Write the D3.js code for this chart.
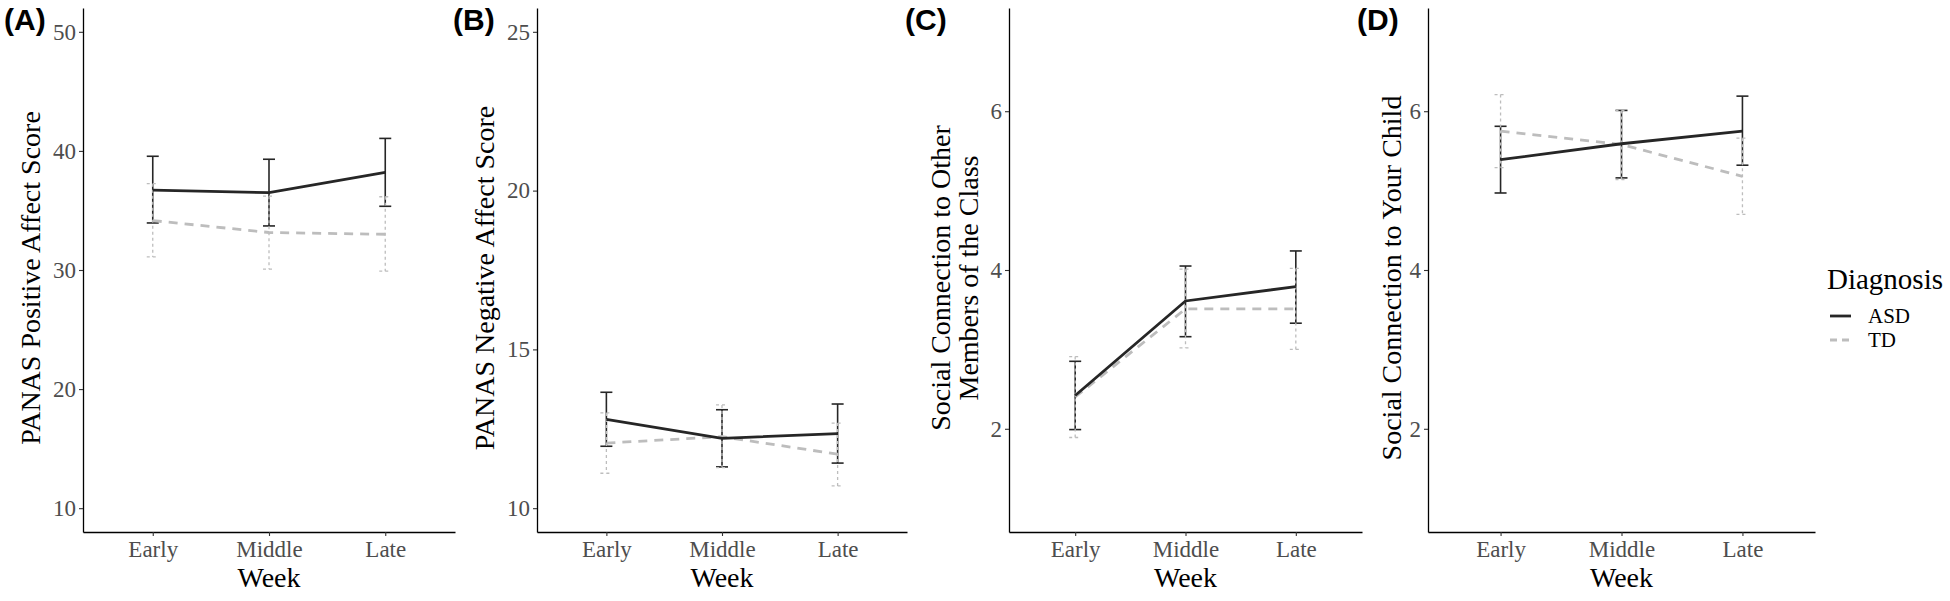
<!DOCTYPE html>
<html><head><meta charset="utf-8">
<script src="https://cdn.jsdelivr.net/npm/d3@7"></script>
<style>body{margin:0;background:#fff;overflow:hidden}</style>
</head><body>
<svg id="chart" width="1950" height="601"></svg>
<script>
// ---------- data ----------
const weeks = ["Early", "Middle", "Late"];
const groups = ["ASD", "TD"];

// (A) PANAS Positive Affect
const posASD = [36.7, 36.5, 38.2];
const posASDlo = [33.95, 33.7, 35.35];
const posASDhi = [39.55, 39.3, 41.05];
const posTD = [34.15, 33.15, 33.0];
const posTDlo = [31.1, 30.07, 29.9];
const posTDhi = [37.25, 36.2, 36.15];
const posTicks = [10, 20, 30, 40, 50];

// (B) PANAS Negative Affect
const negASD = [12.8, 12.2, 12.35];
const negASDlo = [11.95, 11.3, 11.42];
const negASDhi = [13.65, 13.1, 13.28];
const negTD = [12.05, 12.25, 11.7];
const negTDlo = [11.1, 11.28, 10.7];
const negTDhi = [13.0, 13.25, 12.68];
const negTicks = [10, 15, 20, 25];

// (C) Social connection to other class members
const clsASD = [2.42, 3.61, 3.79];
const clsASDlo = [1.99, 3.16, 3.33];
const clsASDhi = [2.85, 4.05, 4.24];
const clsTD = [2.4, 3.51, 3.51];
const clsTDlo = [1.89, 3.02, 3.0];
const clsTDhi = [2.91, 4.01, 4.02];
const clsTicks = [2, 4, 6];

// (D) Social connection to your child
const chdASD = [5.39, 5.59, 5.75];
const chdASDlo = [4.97, 5.16, 5.32];
const chdASDhi = [5.81, 6.01, 6.19];
const chdTD = [5.75, 5.58, 5.18];
const chdTDlo = [5.29, 5.14, 4.7];
const chdTDhi = [6.21, 6.01, 5.66];
const chdTicks = [2, 4, 6];

// ---------- layout ----------
const panels = [
  {label: "(A)", lx: 4, x0: 83, x1: 455, dom: [8, 52], ticks: posTicks,
   title: ["PANAS Positive Affect Score"], tx: 40,
   asd: [posASD, posASDlo, posASDhi], td: [posTD, posTDlo, posTDhi]},
  {label: "(B)", lx: 453, x0: 537, x1: 907, dom: [9.25, 25.75], ticks: negTicks,
   title: ["PANAS Negative Affect Score"], tx: 494,
   asd: [negASD, negASDlo, negASDhi], td: [negTD, negTDlo, negTDhi]},
  {label: "(C)", lx: 905, x0: 1009, x1: 1362, dom: [0.7, 7.3], ticks: clsTicks,
   title: ["Social Connection to Other", "Members of the Class"], tx: 978,
   asd: [clsASD, clsASDlo, clsASDhi], td: [clsTD, clsTDlo, clsTDhi]},
  {label: "(D)", lx: 1357, x0: 1428, x1: 1815, dom: [0.7, 7.3], ticks: chdTicks,
   title: ["Social Connection to Your Child"], tx: 1401,
   asd: [chdASD, chdASDlo, chdASDhi], td: [chdTD, chdTDlo, chdTDhi]}
];

const TOP = 8, BOT = 532;
const serif = "'Liberation Serif','Times New Roman',serif";
const sans = "'Liberation Sans',Arial,sans-serif";
const ASDcol = "#262626", TDcol = "#bdbdbd";

const svg = d3.select("#chart");
svg.append("rect").attr("width", 1950).attr("height", 601).attr("fill", "#fff");

panels.forEach(p => {
  const g = svg.append("g");
  const x = d3.scalePoint().domain(weeks).range([p.x0, p.x1]).padding(0.6);
  const y = d3.scaleLinear().domain(p.dom).range([BOT, TOP]);

  // y axis
  const ya = g.append("g").attr("transform", `translate(${p.x0},0)`)
    .call(d3.axisLeft(y).tickValues(p.ticks).tickFormat(d3.format("d"))
      .tickSize(4).tickSizeOuter(0).tickPadding(3));
  // x axis
  const xa = g.append("g").attr("transform", `translate(0,${BOT})`)
    .call(d3.axisBottom(x).tickSize(4).tickSizeOuter(0).tickPadding(5));
  [ya, xa].forEach(a => {
    a.select(".domain").attr("stroke", "#000").attr("stroke-width", 1.3);
    a.selectAll(".tick line").attr("stroke", "#333").attr("stroke-width", 1.1);
    a.selectAll("text").attr("font-family", serif).attr("font-size", 23).attr("fill", "#4d4d4d");
  });
  xa.selectAll("text").attr("dy", null).attr("y", 25);

  // x title
  g.append("text").attr("x", (p.x0 + p.x1) / 2).attr("y", 587)
    .attr("text-anchor", "middle").attr("font-family", serif).attr("font-size", 28)
    .attr("fill", "#000").text("Week");

  // y title
  const nl = p.title.length;
  p.title.forEach((t, i) => {
    g.append("text")
      .attr("transform", `translate(${p.tx - (nl - 1 - i) * 28},${(TOP + BOT) / 2 + 8}) rotate(-90)`)
      .attr("text-anchor", "middle").attr("font-family", serif).attr("font-size", 28)
      .attr("fill", "#000").text(t);
  });

  // panel label
  g.append("text").attr("x", p.lx).attr("y", 30).attr("font-family", sans)
    .attr("font-weight", "bold").attr("font-size", 30).attr("fill", "#000").text(p.label);

  const series = [
    {name: "ASD", d: p.asd, col: ASDcol, ew: 1.6, edash: null, lw: 2.8, ldash: null},
    {name: "TD", d: p.td, col: TDcol, ew: 1.3, edash: "3,3", lw: 2.8, ldash: "9,7"}
  ];
  const cap = 6;
  // error bars
  series.forEach(s => {
    const eb = g.append("g");
    weeks.forEach((w, i) => {
      const cx = x(w), lo = y(s.d[1][i]), hi = y(s.d[2][i]);
      [[cx, hi, cx, lo], [cx - cap, hi, cx + cap, hi], [cx - cap, lo, cx + cap, lo]].forEach(c => {
        eb.append("line").attr("x1", c[0]).attr("y1", c[1]).attr("x2", c[2]).attr("y2", c[3])
          .attr("stroke", s.col).attr("stroke-width", s.ew)
          .attr("stroke-dasharray", s.edash);
      });
    });
  });
  // lines (TD under ASD)
  const line = d3.line().x((v, i) => x(weeks[i])).y(v => y(v));
  [series[1], series[0]].forEach(s => {
    g.append("path").datum(s.d[0]).attr("d", line).attr("fill", "none")
      .attr("stroke", s.col).attr("stroke-width", s.lw).attr("stroke-dasharray", s.ldash);
  });
});

// legend
const lg = svg.append("g");
lg.append("text").attr("x", 1827).attr("y", 289).attr("font-family", serif)
  .attr("font-size", 29).attr("fill", "#000").text("Diagnosis");
const legendItems = [
  {name: groups[0], col: ASDcol, dash: null},
  {name: groups[1], col: TDcol, dash: "7,5"}
];
legendItems.forEach((it, i) => {
  const yy = 316 + i * 24;
  lg.append("line").attr("x1", 1830).attr("x2", 1851).attr("y1", yy).attr("y2", yy)
    .attr("stroke", it.col).attr("stroke-width", 2.8).attr("stroke-dasharray", it.dash);
  lg.append("text").attr("x", 1868).attr("y", yy + 7).attr("font-family", serif)
    .attr("font-size", 21).attr("fill", "#000").text(it.name);
});
</script>
</body></html>
